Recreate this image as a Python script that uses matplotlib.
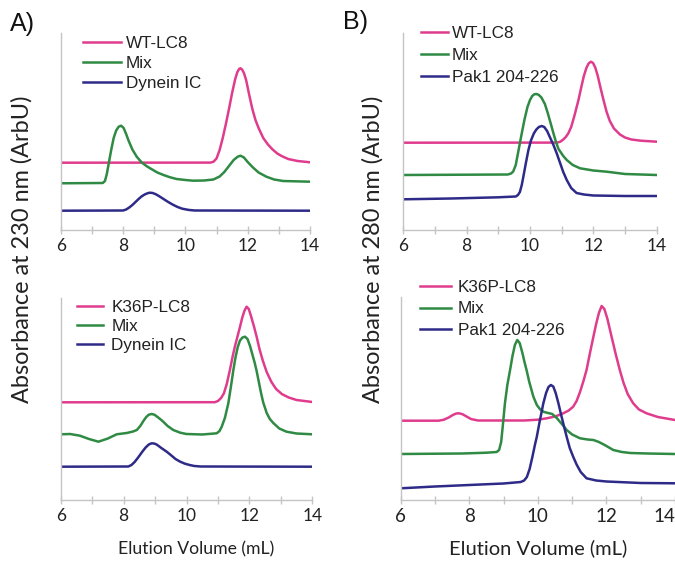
import matplotlib
matplotlib.use("Agg")
import matplotlib.pyplot as plt
from matplotlib.ticker import MultipleLocator

# --- DATA (elution volume in mL, absorbance in arbitrary units) ---
# panel A, top: WT-LC8 / Mix / Dynein IC
a1_wt_x = [6.0, 10.8, 10.9, 11.0, 11.1, 11.2, 11.3, 11.4, 11.5, 11.6, 11.67, 11.73, 11.77,
           11.82, 11.88, 11.95, 12.05, 12.15, 12.25, 12.35, 12.5, 12.65, 12.8, 12.95, 13.1,
           13.3, 13.6, 14.0]
a1_wt_y = [67.3, 67.4, 68.2, 71.5, 80, 92, 106, 121, 137, 151, 158, 161.2, 161.7,
           160.5, 157, 150, 135, 121, 110, 102, 92, 85.5, 80.5, 76.5, 73.8,
           71, 69, 67.7]
a1_mix_x = [6.0, 7.35, 7.42, 7.48, 7.55, 7.62, 7.7, 7.78, 7.86, 7.94, 8.02, 8.1, 8.17, 8.3,
            8.44, 8.6, 8.75, 8.87, 9.1, 9.3, 9.5, 9.72, 10.0, 10.25, 10.6, 10.9, 11.1, 11.25,
            11.4, 11.55, 11.68, 11.77, 11.88, 12.0, 12.17, 12.35, 12.6, 12.85, 13.14, 14.0]
a1_mix_y = [46.7, 47, 49, 56, 68, 80, 92, 99.5, 103.3, 104.3, 102, 96, 90, 80.5,
            73.3, 67.5, 64, 61.7, 57.5, 55, 52.8, 51, 50, 49.3, 49.5, 50.5, 53.5, 58,
            64, 70, 73.3, 74.3, 72.5, 68, 62.5, 57.5, 53.3, 50.5, 49, 48.3]
a1_ic_x = [6.0, 8.0, 8.1, 8.2, 8.3, 8.4, 8.5, 8.6, 8.7, 8.8, 8.87, 8.95, 9.05, 9.15, 9.3,
           9.45, 9.6, 9.75, 9.9, 10.1, 10.3, 14.0]
a1_ic_y = [19.3, 19.5, 20.5, 22.5, 25, 28, 31, 33.7, 35.6, 36.9, 37.3, 37, 35.8, 34, 31,
           28, 25.3, 23, 21.3, 20.1, 19.5, 19.3]

# panel A, bottom: K36P-LC8 / Mix / Dynein IC
a2_k36_x = [6.0, 10.9, 11.0, 11.1, 11.19, 11.28, 11.38, 11.47, 11.55, 11.62, 11.7, 11.77,
            11.84, 11.91, 11.98, 12.06, 12.15, 12.23, 12.32, 12.43, 12.55, 12.7, 12.85,
            13.03, 13.25, 13.5, 14.0]
a2_k36_y = [97.7, 97.8, 99, 102, 106.7, 116, 130, 144, 155, 163.3, 173, 182,
            189, 193.3, 191, 183, 173, 163.3, 151, 139, 128, 118, 111,
            106, 102.5, 100, 98]
a2_mix_x = [6.0, 6.3, 6.61, 6.9, 7.2, 7.5, 7.78, 8.1, 8.3, 8.42, 8.53, 8.63, 8.72, 8.8,
            8.89, 8.98, 9.08, 9.18, 9.26, 9.4, 9.58, 9.8, 10.0, 10.5, 10.96, 11.05, 11.12,
            11.22, 11.33, 11.42, 11.49, 11.56, 11.63, 11.7, 11.78, 11.86, 11.94, 12.02,
            12.1, 12.17, 12.23, 12.3, 12.37, 12.44, 12.55, 12.65, 12.76, 12.95, 13.18,
            13.5, 14.0]
a2_mix_y = [65.7, 66, 64.3, 61, 58.3, 61.5, 65.7, 67, 68.5, 70, 74, 79, 83, 85.3,
            86, 85.3, 83, 80.5, 78.3, 74, 70, 67.3, 66, 65.5, 66.7, 69, 73.3,
            82, 96.7, 115, 130, 143, 153, 159.5, 162.5, 163.3, 161, 154,
            145, 137, 129, 118, 107, 97.5, 87, 81, 77, 71.5, 68.3,
            66.5, 65.7]
a2_ic_x = [6.0, 8.15, 8.25, 8.35, 8.45, 8.52, 8.6, 8.7, 8.8, 8.89, 8.97, 9.05, 9.2, 9.37,
           9.5, 9.65, 9.8, 9.95, 10.1, 10.25, 10.45, 14.0]
a2_ic_y = [33.3, 33.5, 35, 38, 42, 45, 48.5, 52.5, 55.5, 56.7, 56.5, 55.5, 52, 48.3,
           45, 41, 38.3, 36.3, 35, 34, 33.5, 33.3]

# panel B, top: WT-LC8 / Mix / Pak1 204-226
b1_wt_x = [6.0, 10.85, 10.95, 11.05, 11.13, 11.21, 11.3, 11.4, 11.53, 11.62, 11.7, 11.78,
           11.85, 11.92, 11.99, 12.06, 12.14, 12.22, 12.32, 12.42, 12.52, 12.65, 12.84,
           13.0, 13.2, 13.5, 14.0]
b1_wt_y = [87.3, 87.4, 88.2, 90.5, 93, 96.7, 103, 114, 130, 143, 154, 162,
           166.5, 168.3, 167, 162.5, 154, 143, 130, 118, 109, 101.5, 95.5,
           92.5, 90.5, 89.3, 88.3]
b1_mix_x = [6.0, 9.3, 9.4, 9.47, 9.55, 9.64, 9.74, 9.83, 9.92, 10.0, 10.07, 10.14, 10.21,
            10.28, 10.36, 10.47, 10.56, 10.65, 10.74, 10.82, 10.9, 11.05, 11.16, 11.35,
            11.58, 12.0, 12.42, 13.0, 14.0]
b1_mix_y = [55, 55.5, 56.5, 58.5, 65, 80, 96.7, 111, 123, 130, 134, 135.8, 136,
            135, 132.5, 126, 117, 107, 96.7, 88, 81, 74, 70, 65,
            61.7, 59.5, 58.3, 56, 55]
b1_pak_x = [6.0, 7.5, 9.0, 9.55, 9.62, 9.68, 9.74, 9.79, 9.87, 9.95, 10.03, 10.12, 10.2,
            10.28, 10.37, 10.45, 10.54, 10.64, 10.74, 10.84, 10.95, 11.05, 11.16, 11.3,
            11.47, 11.7, 12.0, 13.0, 14.0]
b1_pak_y = [30.7, 31.5, 32.7, 33.5, 35, 38, 45, 53.3, 67, 80, 89.5, 96.5, 100.5,
            103, 104, 103, 99, 92, 85, 77, 67, 58, 50, 42,
            37, 35.5, 34.5, 34, 34]

# panel B, bottom: K36P-LC8 / Mix / Pak1 204-226
b2_k36_x = [6.0, 7.1, 7.25, 7.4, 7.52, 7.62, 7.7, 7.8, 7.92, 8.05, 8.25, 9.6, 10.0, 10.26,
            10.5, 10.7, 10.9, 11.03, 11.13, 11.23, 11.33, 11.42, 11.52, 11.62, 11.7, 11.78,
            11.86, 11.94, 12.03, 12.15, 12.27, 12.39, 12.5, 12.62, 12.78, 12.95, 13.17,
            13.5, 14.0]
b2_k36_y = [79.3, 79.3, 80.2, 82.5, 85, 86.5, 86.7, 85.8, 83.5, 81, 79.5, 79.5, 80.3, 81.7,
            83.5, 86, 89.5, 93.3, 99, 108, 119, 130, 147, 163.3, 176, 187,
            194, 191, 181, 163.3, 146, 130, 117, 106, 96.7, 90.5, 86.7,
            83, 80]
b2_mix_x = [6.0, 7.8, 8.5, 8.8, 8.87, 8.93, 8.98, 9.04, 9.11, 9.19, 9.26, 9.33, 9.4, 9.47,
            9.55, 9.61, 9.67, 9.75, 9.87, 9.97, 10.07, 10.18, 10.3, 10.42, 10.55, 10.7,
            10.84, 11.0, 11.23, 11.45, 11.62, 11.78, 11.95, 12.2, 12.45, 12.7, 13.2, 14.0]
b2_mix_y = [46, 46.5, 47.3, 48, 50, 58, 75, 96.7, 115, 130, 144, 155, 160, 157,
            147, 138, 130, 118, 103.3, 95, 90.5, 88, 87, 86, 82, 76,
            70, 65.5, 61.7, 60.5, 60, 58, 55, 50, 48, 47, 46.5, 46]
b2_pak_x = [6.0, 7.0, 8.0, 9.0, 9.5, 9.6, 9.68, 9.76, 9.84, 9.92, 9.97, 10.05, 10.16,
            10.24, 10.31, 10.38, 10.45, 10.52, 10.6, 10.68, 10.76, 10.84, 10.93, 11.03,
            11.13, 11.25, 11.42, 11.7, 12.0, 13.0, 14.0]
b2_pak_y = [11.7, 13.5, 15, 16.5, 18, 19.5, 23, 31, 43, 56, 63.3, 78, 96.7,
            107, 113, 115, 113.5, 107, 96.7, 85, 74, 63.3, 52, 43.3,
            35.5, 28, 21.7, 19.5, 18.5, 17, 16.7]

xticks = [6, 8, 10, 12, 14]
xlabel = "Elution Volume (mL)"

PINK = "#e03c8e"
GREEN = "#2f8a43"
BLUE = "#2e2b88"
AXGRAY = "#c4c4c4"
W, H = 675, 565

plt.rcParams["font.family"] = ["Lato", "DejaVu Sans"]


def px_rect(left, right, bottom, top):
    # pixel box (from top-left of image) -> figure fraction rect
    return [left / W, 1 - bottom / H, (right - left) / W, (bottom - top) / H]


def panel(fig, rect, ytop, series, leg_anchor, leg_opts, tick_fs):
    ax = fig.add_axes(rect)
    for x, y, c, lab in series:
        ax.plot(x, y, color=c, lw=1.8, label=lab, solid_joinstyle="round")
    ax.set_xlim(6, 14)
    ax.set_ylim(0, ytop)
    ax.set_xticks(xticks)
    ax.xaxis.set_minor_locator(MultipleLocator(1))
    ax.set_yticks([])
    for s in ["top", "right"]:
        ax.spines[s].set_visible(False)
    for s in ["left", "bottom"]:
        ax.spines[s].set_color(AXGRAY)
        ax.spines[s].set_linewidth(1.0)
    ax.tick_params(axis="x", which="both", direction="inout", length=6, width=1.0,
                   color=AXGRAY, labelsize=tick_fs, pad=3, labelcolor="#222222")
    ax.patch.set_visible(False)
    leg = ax.legend(loc="upper left", bbox_to_anchor=(leg_anchor[0] / W, 1 - leg_anchor[1] / H),
                    bbox_transform=fig.transFigure, frameon=False, borderpad=0,
                    borderaxespad=0, prop={"family": "Liberation Sans", "size": 12.3},
                    **leg_opts)
    for t in leg.get_texts():
        t.set_color("#222222")
    return ax


fig = plt.figure(figsize=(W / 100, H / 100), dpi=100)

panel(fig, px_rect(60.7, 310, 230, 33), 197,
      [(a1_wt_x, a1_wt_y, PINK, "WT-LC8"), (a1_mix_x, a1_mix_y, GREEN, "Mix"),
       (a1_ic_x, a1_ic_y, BLUE, "Dynein IC")],
      (83, 36), dict(handlelength=2.2, handletextpad=0.3, labelspacing=0.28), 12.5)

panel(fig, px_rect(60.7, 312.3, 500, 298), 202,
      [(a2_k36_x, a2_k36_y, PINK, "K36P-LC8"), (a2_mix_x, a2_mix_y, GREEN, "Mix"),
       (a2_ic_x, a2_ic_y, BLUE, "Dynein IC")],
      (77, 300), dict(handlelength=1.5, handletextpad=0.5, labelspacing=0.24), 12.5)

panel(fig, px_rect(403.3, 656.7, 230, 33), 197,
      [(b1_wt_x, b1_wt_y, PINK, "WT-LC8"), (b1_mix_x, b1_mix_y, GREEN, "Mix"),
       (b1_pak_x, b1_pak_y, BLUE, "Pak1 204-226")],
      (421, 26), dict(handlelength=1.6, handletextpad=0.2, labelspacing=0.4), 12.5)

axb2 = panel(fig, px_rect(400.7, 675, 500, 297), 203,
             [(b2_k36_x, b2_k36_y, PINK, "K36P-LC8"), (b2_mix_x, b2_mix_y, GREEN, "Mix"),
              (b2_pak_x, b2_pak_y, BLUE, "Pak1 204-226")],
             (420, 280), dict(handlelength=1.8, handletextpad=0.4, labelspacing=0.38), 13.5)
# last tick label would be cut by the image edge
axb2.get_xticklabels()[-1].set_horizontalalignment("right")

# axis titles
fig.text(196 / W, 1 - 549 / H, xlabel, ha="center", va="center", fontsize=12.7, color="#222222")
fig.text(538 / W, 1 - 548 / H, xlabel, ha="center", va="center", fontsize=14.5, color="#222222")
fig.text(22 / W, 1 - 249 / H, "Absorbance at 230 nm (ArbU)", rotation=90,
         ha="center", va="center", fontsize=16.9, color="#222222")
fig.text(373 / W, 1 - 249 / H, "Absorbance at 280 nm (ArbU)", rotation=90,
         ha="center", va="center", fontsize=16.9, color="#222222")

# panel letters
fig.text(10 / W, 1 - 24 / H, "A)", ha="left", va="center", fontsize=18,
         family="Liberation Sans", color="#111111")
fig.text(343 / W, 1 - 22 / H, "B)", ha="left", va="center", fontsize=18,
         family="Liberation Sans", color="#111111")

fig.savefig("out.png", dpi=100)
